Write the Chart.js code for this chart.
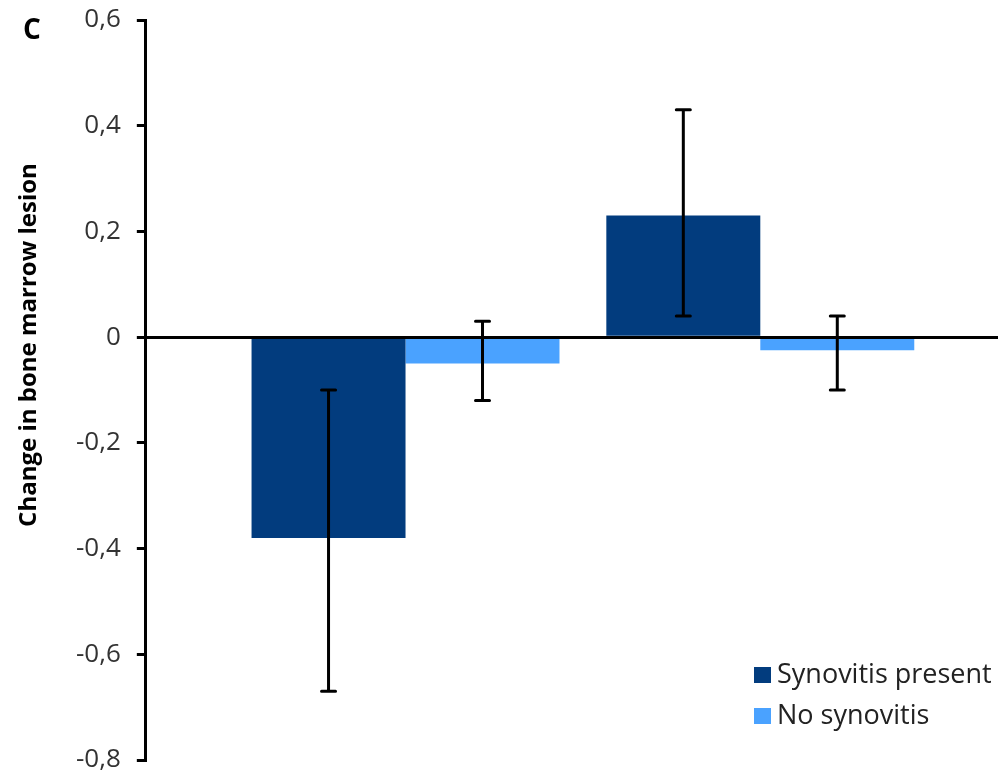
<!DOCTYPE html>
<html lang="en">
  <head>
    <meta charset="UTF-8" />
    <title>Change in bone marrow lesion</title>
    <script src="https://cdn.jsdelivr.net/npm/chart.js@4.4.0/dist/chart.umd.min.js"></script>
    <style>
      html, body { margin: 0; padding: 0; background: #fff; }
      #wrap { width: 1008px; height: 775px; }
    </style>
  </head>
  <body>
    <div id="wrap"><canvas id="chart"></canvas></div>
    <script>
      // Data
      const categories = ["Group 1", "Group 2"];
      const seriesNames = ["Synovitis present", "No synovitis"];
      const synovitisValues = [-0.38, 0.23];
      const synovitisLow = [-0.67, 0.04];
      const synovitisHigh = [-0.10, 0.43];
      const noSynovitisValues = [-0.05, -0.025];
      const noSynovitisLow = [-0.12, -0.10];
      const noSynovitisHigh = [0.03, 0.04];
      const yTicks = [-0.8, -0.6, -0.4, -0.2, 0, 0.2, 0.4, 0.6];

      const FONT = "'Open Sans', Lato, sans-serif";

      // category positions on a linear x scale (1, 2, ...)
      const toPoints = (vals, lo, hi) =>
        vals.map((v, i) => ({ x: i + 1, y: v, lo: lo[i], hi: hi[i], cat: categories[i] }));

      // Error bars drawn from the bar elements and the y scale
      const errorBars = {
        id: "errorBars",
        afterDatasetsDraw(chart) {
          const ctx = chart.ctx;
          const y = chart.scales.y;
          ctx.save();
          ctx.strokeStyle = "#000";
          ctx.lineWidth = 3;
          ctx.lineCap = "round";
          chart.data.datasets.forEach((ds, di) => {
            chart.getDatasetMeta(di).data.forEach((bar, i) => {
              const p = ds.data[i];
              const x = bar.x;
              const yl = y.getPixelForValue(p.lo);
              const yh = y.getPixelForValue(p.hi);
              ctx.beginPath();
              ctx.moveTo(x, yl);
              ctx.lineTo(x, yh);
              ctx.moveTo(x - 7, yl);
              ctx.lineTo(x + 7, yl);
              ctx.moveTo(x - 7, yh);
              ctx.lineTo(x + 7, yh);
              ctx.stroke();
            });
          });
          ctx.restore();
        },
      };

      // Panel letter, y title and legend
      const decorations = {
        id: "decorations",
        afterDraw(chart) {
          const ctx = chart.ctx;
          ctx.save();
          ctx.fillStyle = "#000";
          ctx.font = "bold 28px " + FONT;
          ctx.textBaseline = "middle";
          ctx.fillText("C", 23, 31);

          ctx.translate(29, 345);
          ctx.rotate(-Math.PI / 2);
          ctx.textAlign = "center";
          ctx.font = "bold 24px " + FONT;
          ctx.fillText("Change in bone marrow lesion", 0, 0);
          ctx.restore();

          ctx.save();
          ctx.font = "27px " + FONT;
          ctx.textBaseline = "middle";
          chart.data.datasets.forEach((ds, i) => {
            const ly = 675 + i * 41;
            ctx.fillStyle = ds.backgroundColor;
            ctx.fillRect(754, ly - 8, 17, 16);
            ctx.fillStyle = "#222";
            ctx.fillText(ds.label, 777, ly);
          });
          ctx.restore();
        },
      };

      new Chart(document.getElementById("chart"), {
        type: "bar",
        data: {
          datasets: [
            {
              label: seriesNames[0],
              data: toPoints(synovitisValues, synovitisLow, synovitisHigh),
              backgroundColor: "#023c7e",
            },
            {
              label: seriesNames[1],
              data: toPoints(noSynovitisValues, noSynovitisLow, noSynovitisHigh),
              backgroundColor: "#4aa2ff",
            },
          ],
        },
        options: {
          responsive: true,
          maintainAspectRatio: false,
          animation: false,
          layout: { padding: { top: 20, right: 10, bottom: 15, left: 60 } },
          categoryPercentage: 0.868,
          barPercentage: 1.0,
          plugins: { legend: { display: false }, tooltip: { enabled: false } },
          scales: {
            x: {
              type: "linear",
              offset: false,
              min: 0.268,
              max: 2.67,
              display: false,
              afterBuildTicks(scale) {
                scale.ticks = categories.map((c, i) => ({ value: i + 1 }));
              },
            },
            y: {
              min: yTicks[0],
              max: yTicks[yTicks.length - 1],
              afterBuildTicks(scale) {
                scale.ticks = yTicks.map((v) => ({ value: v }));
              },
              afterFit(scale) {
                scale.paddingTop = 0;
                scale.paddingBottom = 0;
              },
              border: { display: true, color: "#000", width: 3, z: 1 },
              grid: {
                color: (c) => (c.tick && c.tick.value === 0 ? "#000" : "rgba(0,0,0,0)"),
                lineWidth: 3,
                tickColor: "#000",
                tickWidth: 3,
                tickLength: 9,
                z: 1,
              },
              ticks: {
                padding: 16,
                color: "#333",
                font: { family: FONT, size: 26 },
                callback: (v) => (Math.abs(v) < 1e-9 ? "0" : v.toFixed(1).replace(".", ",")),
              },
            },
          },
        },
        plugins: [errorBars, decorations],
      });
    </script>
  </body>
</html>
